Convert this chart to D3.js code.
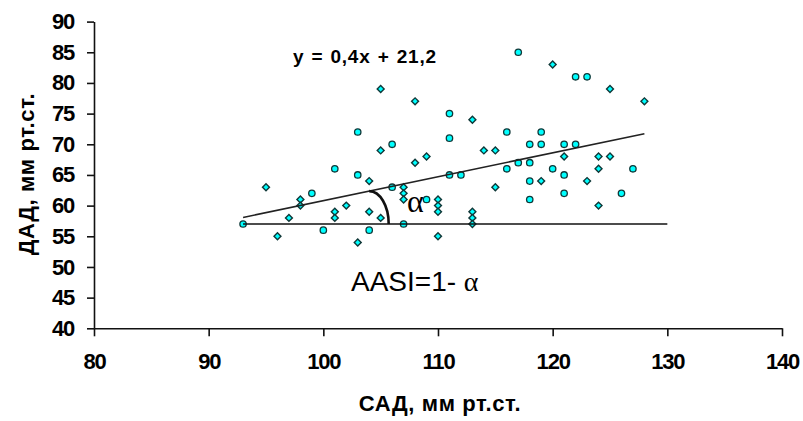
<!DOCTYPE html>
<html>
<head>
<meta charset="utf-8">
<script src="https://cdn.jsdelivr.net/npm/d3@7"></script>
<style>
  body { margin: 0; background: #fff; }
  svg { display: block; }
  .tick text { font-family: "Liberation Sans", Arial, sans-serif; font-weight: bold; font-size: 22px; letter-spacing: -1.2px; fill: #000; }
</style>
</head>
<body>
<div id="chart"></div>
<script>
// SAD / DAD points, two marker styles as in the original
var circlePts = [
  [117, 85], [111, 75], [103, 72], [111, 71], [116, 72], [119, 72], [106, 70], [118, 70],
  [119, 70], [121, 70], [122, 70], [122, 81], [123, 81], [101, 66], [103, 65], [116, 66],
  [117, 67], [118, 67], [120, 66], [127, 66], [121, 65], [99, 62], [100, 56], [104, 56],
  [109, 61], [118, 61], [121, 62], [126, 62], [93, 57], [111, 65], [112, 65], [106, 63],
  [107, 57], [118, 64]
];
var diamondPts = [
  [105, 79], [108, 77], [113, 74], [105, 69], [114, 69], [115, 69], [109, 68], [108, 67],
  [104, 64], [120, 83], [125, 79], [128, 77], [121, 68], [124, 68], [125, 68], [124, 66],
  [123, 64], [119, 64], [95, 63], [96, 55], [97, 58], [98, 61], [98, 60], [101, 59],
  [101, 58], [102, 60], [104, 59], [105, 58], [103, 54], [107, 63], [107, 62], [107, 61],
  [110, 61], [110, 60], [110, 59], [110, 55], [113, 59], [113, 58], [113, 57], [115, 63],
  [124, 60]
];
var xTicks = [80, 90, 100, 110, 120, 130, 140];
var yTicks = [40, 45, 50, 55, 60, 65, 70, 75, 80, 85, 90];
var trendCoef = [0.39, 21.8];   // drawn trend line (slope, intercept)
var trendRange = [93, 128];
var baseLevel = 57;
var baseRange = [93, 130];

var W = 803, H = 421;
var margin = { top: 21.6, right: 21, bottom: 92.7, left: 94 };

var svg = d3.select('#chart').append('svg').attr('width', W).attr('height', H);

var xScale = d3.scaleLinear().domain([80, 140]).range([margin.left, W - margin.right]);
var yScale = d3.scaleLinear().domain([40, 90]).range([H - margin.bottom, margin.top]);

// axes
var gx = svg.append('g')
  .attr('transform', 'translate(0,' + yScale(40) + ')')
  .call(d3.axisBottom(xScale).tickValues(xTicks).tickSize(8).tickPadding(17).tickSizeOuter(0));
var gy = svg.append('g')
  .attr('transform', 'translate(' + xScale(80) + ',0)')
  .call(d3.axisLeft(yScale).tickValues(yTicks).tickSize(7).tickPadding(13).tickSizeOuter(0));
[gx, gy].forEach(function (g) {
  g.select('.domain').attr('stroke', '#111').attr('stroke-width', 1.6);
  g.selectAll('.tick line').attr('stroke', '#111').attr('stroke-width', 1.6);
});

// axis titles
svg.append('text')
  .attr('x', 440).attr('y', 411)
  .attr('text-anchor', 'middle')
  .style('font-family', '"Liberation Sans", Arial, sans-serif')
  .style('font-weight', 'bold').style('font-size', '22px').style('letter-spacing', '0.6px')
  .text('САД, мм рт.ст.');
svg.append('text')
  .attr('transform', 'translate(34,174) rotate(-90)')
  .attr('text-anchor', 'middle')
  .style('font-family', '"Liberation Sans", Arial, sans-serif')
  .style('font-weight', 'bold').style('font-size', '22px').style('letter-spacing', '0.6px')
  .text('ДАД, мм рт.ст.');

// markers
var fillC = '#00ffff', strokeC = '#103838';
svg.append('g').selectAll('circle')
  .data(circlePts)
  .enter().append('circle')
  .attr('cx', function (d) { return xScale(d[0]); })
  .attr('cy', function (d) { return yScale(d[1]); })
  .attr('r', 3.2)
  .attr('fill', fillC).attr('stroke', strokeC).attr('stroke-width', 1.3);
svg.append('g').selectAll('path')
  .data(diamondPts)
  .enter().append('path')
  .attr('d', d3.symbol().type(d3.symbolSquare).size(24))
  .attr('transform', function (d) { return 'translate(' + xScale(d[0]) + ',' + yScale(d[1]) + ') rotate(45)'; })
  .attr('fill', fillC).attr('stroke', strokeC).attr('stroke-width', 1.4);

// trend line and baseline
svg.append('line')
  .attr('x1', xScale(trendRange[0])).attr('y1', yScale(trendCoef[0] * trendRange[0] + trendCoef[1]))
  .attr('x2', xScale(trendRange[1])).attr('y2', yScale(trendCoef[0] * trendRange[1] + trendCoef[1]))
  .attr('stroke', '#222').attr('stroke-width', 1.6);
svg.append('line')
  .attr('x1', xScale(baseRange[0])).attr('y1', yScale(baseLevel))
  .attr('x2', xScale(baseRange[1])).attr('y2', yScale(baseLevel))
  .attr('stroke', '#111').attr('stroke-width', 1.6);

// angle arc
var ax0 = 104, ax1 = 105.7;
var sx = xScale(ax0), sy = yScale(trendCoef[0] * ax0 + trendCoef[1]);
var ex = xScale(ax1), ey = yScale(baseLevel);
svg.append('path')
  .attr('d', 'M' + sx + ',' + sy + ' A' + (ex - sx) + ',' + (ey - sy) + ' 0 0 1 ' + ex + ',' + ey)
  .attr('fill', 'none').attr('stroke', '#111').attr('stroke-width', 2.6);

// annotations
svg.append('text')
  .attr('x', 293).attr('y', 63)
  .style('font-family', '"Liberation Sans", Arial, sans-serif')
  .style('font-weight', 'bold').style('font-size', '19px')
  .style('letter-spacing', '0.8px').style('word-spacing', '1px')
  .text('y = 0,4x + 21,2');
svg.append('text')
  .attr('x', 407).attr('y', 212)
  .style('font-family', '"Liberation Serif", "Times New Roman", serif')
  .style('font-size', '32px')
  .text('α');
var aasi = svg.append('text')
  .attr('x', 351).attr('y', 291)
  .style('font-family', '"Liberation Sans", Arial, sans-serif')
  .style('font-size', '28px');
aasi.append('tspan').text('AASI=1- ');
aasi.append('tspan').style('font-family', '"Liberation Serif", "Times New Roman", serif').text('α');
</script>
</body>
</html>
